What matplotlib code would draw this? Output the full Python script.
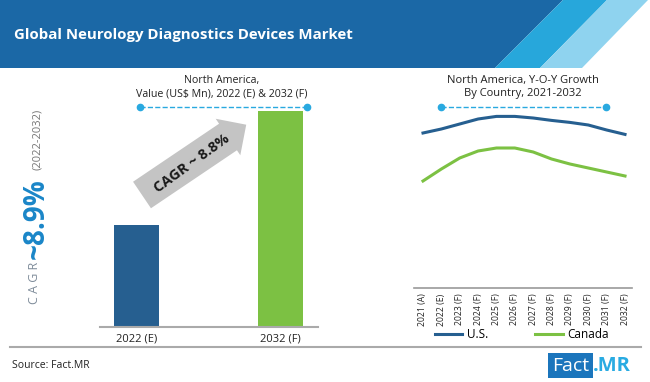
import matplotlib.pyplot as plt
from matplotlib.patches import Polygon, FancyArrow, Rectangle

plt.rcParams['font.family'] = ['Open Sans', 'DejaVu Sans']

# data
bar_labels = ['2022 (E)', '2032 (F)']
bar_values = [1020, 2160]
bar_colors = ['#265f90', '#7cc143']

years = ['2021 (A)', '2022 (E)', '2023 (F)', '2024 (F)', '2025 (F)', '2026 (F)',
         '2027 (F)', '2028 (F)', '2029 (F)', '2030 (F)', '2031 (F)', '2032 (F)']
us_growth = [7.75, 7.95, 8.2, 8.45, 8.58, 8.58, 8.5, 8.38, 8.28, 8.15, 7.9, 7.68]
canada_growth = [5.35, 5.95, 6.5, 6.85, 7.0, 7.0, 6.8, 6.45, 6.2, 6.0, 5.8, 5.6]

W, H = 650, 382
fig = plt.figure(figsize=(6.5, 3.82), dpi=100)

# background axes in pixel units for decorations
bg = fig.add_axes([0, 0, 1, 1])
bg.set_xlim(0, W)
bg.set_ylim(H, 0)
bg.axis('off')

# header band
bg.add_patch(Polygon([(0, 0), (563, 0), (495, 68), (0, 68)], closed=True, color='#1b68a6', lw=0))
bg.add_patch(Polygon([(563, 0), (607, 0), (540, 68), (495, 68)], closed=True, color='#27a7db', lw=0))
bg.add_patch(Polygon([(607, 0), (648, 0), (582, 68), (540, 68)], closed=True, color='#8fd3ef', lw=0))
bg.text(14, 35, 'Global Neurology Diagnostics Devices Market', color='white',
        fontsize=10.8, fontweight='bold', va='center', ha='left')

# vertical CAGR text
bg.text(35, 283, 'C A G R', rotation=90, color='#7f8c9a', fontsize=9, ha='center', va='center')
bg.text(36, 219, '~8.9%', rotation=90, color='#1a86c8', fontsize=20, fontweight='bold',
        ha='center', va='center')
bg.text(37, 139, '(2022-2032)', rotation=90, color='#777777', fontsize=8, ha='center', va='center')

# panel titles and dashed lines
bg.text(222, 87, 'North America,\nValue (US$ Mn), 2022 (E) & 2032 (F)', ha='center', va='center',
        fontsize=7.7, color='#222222', linespacing=1.3)
bg.text(523, 87, 'North America, Y-O-Y Growth\nBy Country, 2021-2032', ha='center', va='center',
        fontsize=8, color='#222222', linespacing=1.3)
for x0, x1 in [(140, 307), (441, 606)]:
    bg.plot([x0, x1], [107, 107], ls='--', color='#29a9e0', lw=1)
    bg.plot([x0, x1], [107, 107], 'o', color='#29a9e0', ms=4.5)

# CAGR arrow
bg.add_patch(FancyArrow(142, 195, 86, -58, width=32, head_width=44, head_length=22,
                        length_includes_head=False, color='#c4c4c4', lw=0))
bg.text(192, 163, 'CAGR ~ 8.8%', rotation=36, ha='center', va='center', fontsize=10.5,
        fontweight='bold', color='#1a1a1a')

# bottom rule, source and logo
bg.plot([10, 641], [347, 347], color='#aaaaaa', lw=1.5)
bg.text(12, 366, 'Source: Fact.MR', fontsize=7.5, color='#222222', va='center', ha='left')
bg.add_patch(Rectangle((548, 353), 45, 25, color='#1b75bc', lw=0))
bg.text(570.5, 366, 'Fact', color='white', fontsize=14, ha='center', va='center')
bg.text(593, 366, '.MR', color='#29abe2', fontsize=14.5, fontweight='bold', ha='left', va='center')

# bar chart
ax1 = fig.add_axes([100 / W, (H - 327) / H, 218 / W, 220 / H])
ax1.bar([0, 1], bar_values, width=0.3125, color=bar_colors)
ax1.set_xlim(-0.253, 1.261)
ax1.set_ylim(0, 2200)
ax1.set_xticks([0, 1])
ax1.set_xticklabels(bar_labels, fontsize=8, color='#222222')
ax1.set_yticks([])
ax1.tick_params(axis='x', length=0, pad=5)
for s in ['top', 'right', 'left']:
    ax1.spines[s].set_visible(False)
ax1.spines['bottom'].set_color('#aaaaaa')
ax1.spines['bottom'].set_linewidth(1.5)
ax1.patch.set_alpha(0)

# line chart
ax2 = fig.add_axes([414 / W, (H - 288) / H, 218 / W, 180 / H])
ax2.plot(range(len(years)), us_growth, color='#265f90', lw=2.2, label='U.S.')
ax2.plot(range(len(years)), canada_growth, color='#7cc143', lw=2.2, label='Canada')
ax2.set_xlim(-0.49, 11.38)
ax2.set_ylim(0, 9)
ax2.set_xticks(range(len(years)))
ax2.set_xticklabels(years, rotation=90, fontsize=6.2, color='#222222')
ax2.set_yticks([])
ax2.tick_params(axis='x', length=0, pad=4)
for s in ['top', 'right', 'left']:
    ax2.spines[s].set_visible(False)
ax2.spines['bottom'].set_color('#999999')
ax2.spines['bottom'].set_linewidth(1.2)
ax2.patch.set_alpha(0)

fig.legend(handles=ax2.get_lines(), loc='center', bbox_to_anchor=(522 / W, 1 - 335 / H),
           ncol=2, frameon=False, fontsize=8.5, handlelength=2.3, columnspacing=4.0,
           handletextpad=0.4)

fig.savefig('out.png', dpi=100)
